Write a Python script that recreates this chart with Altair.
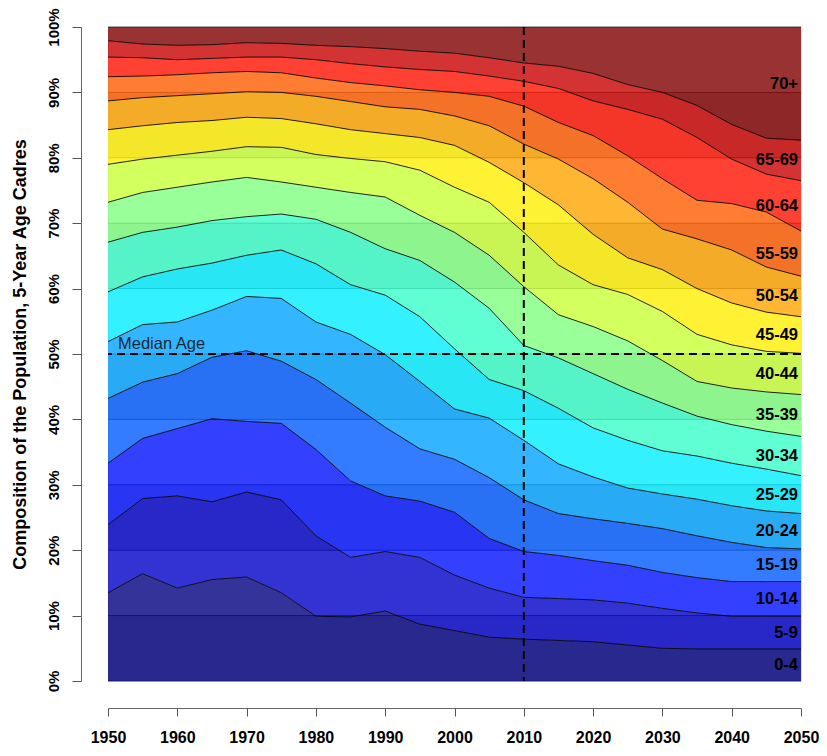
import altair as alt
import pandas as pd

years = list(range(1950, 2051, 5))
groups = ["0-4", "5-9", "10-14", "15-19", "20-24", "25-29", "30-34", "35-39",
          "40-44", "45-49", "50-54", "55-59", "60-64", "65-69", "70+"]

# cumulative share (%) at the top of each age group, 1950..2050 by 5 years
top_0_4 = [13.5, 16.4, 14.2, 15.5, 15.9, 13.5, 9.9, 9.8, 10.7, 8.7, 7.7, 6.7, 6.4, 6.2, 6.0, 5.5, 5.0, 4.9, 4.9, 4.9, 4.9]
top_5_9 = [23.9, 27.9, 28.3, 27.4, 28.9, 27.7, 22.2, 18.9, 19.8, 18.9, 16.2, 14.2, 12.8, 12.6, 12.4, 11.9, 11.1, 10.4, 9.9, 9.9, 9.9]
top_10_14 = [33.3, 37.1, 38.6, 40.1, 39.7, 39.4, 35.4, 30.6, 28.3, 27.5, 25.8, 21.8, 19.8, 19.2, 18.4, 17.7, 16.6, 15.8, 15.2, 15.2, 15.2]
top_15_19 = [43.2, 45.7, 47.0, 49.5, 50.5, 48.9, 46.1, 42.5, 38.8, 35.5, 33.9, 31.1, 27.7, 25.6, 24.8, 24.1, 23.3, 22.2, 21.2, 20.4, 20.2]
top_20_24 = [51.9, 54.5, 54.9, 56.7, 58.8, 58.5, 54.9, 53.0, 49.9, 45.8, 41.6, 40.2, 36.8, 33.2, 31.2, 29.5, 28.6, 27.8, 26.8, 26.0, 25.6]
top_25_29 = [59.5, 61.8, 63.0, 63.9, 65.1, 65.9, 63.8, 60.6, 59.0, 55.7, 50.8, 46.1, 44.4, 41.7, 38.7, 36.8, 35.2, 34.4, 33.3, 32.4, 31.4]
top_30_34 = [67.1, 68.6, 69.4, 70.4, 71.0, 71.4, 70.6, 68.6, 66.1, 64.3, 61.0, 57.0, 51.3, 49.4, 47.0, 44.6, 42.5, 40.5, 39.2, 38.2, 37.4]
top_35_39 = [73.2, 74.7, 75.5, 76.3, 77.0, 76.3, 75.5, 74.7, 74.0, 71.2, 68.6, 65.1, 60.3, 56.0, 54.2, 52.0, 49.0, 45.8, 44.8, 44.2, 43.8]
top_40_44 = [79.0, 79.8, 80.4, 81.0, 81.7, 81.6, 80.5, 79.9, 79.4, 78.1, 75.5, 73.2, 68.6, 63.6, 60.6, 59.1, 56.5, 53.0, 51.4, 50.4, 50.1]
top_45_49 = [84.3, 84.9, 85.4, 85.7, 86.2, 86.0, 85.2, 84.3, 83.7, 83.1, 81.9, 79.3, 76.2, 72.8, 68.3, 64.7, 62.9, 60.0, 57.8, 56.4, 55.7]
top_50_54 = [88.7, 89.2, 89.5, 89.8, 90.1, 90.0, 89.4, 88.6, 87.8, 87.4, 86.4, 84.9, 82.1, 79.8, 76.8, 73.2, 69.1, 67.6, 65.9, 63.3, 61.9]
top_55_59 = [92.4, 92.5, 92.7, 93.0, 93.2, 93.0, 92.2, 91.5, 91.0, 90.4, 90.0, 89.4, 87.9, 85.4, 83.4, 80.3, 76.8, 73.5, 73.0, 71.7, 68.8]
top_60_64 = [95.4, 95.3, 95.0, 95.2, 95.4, 95.4, 95.0, 94.4, 93.9, 93.5, 93.2, 92.5, 91.7, 90.6, 88.7, 87.4, 85.9, 83.1, 79.8, 77.5, 76.5]
top_65_69 = [97.9, 97.4, 97.2, 97.3, 97.6, 97.5, 97.2, 97.0, 96.7, 96.3, 96.0, 95.3, 94.5, 94.0, 92.9, 91.2, 90.0, 88.0, 85.1, 83.0, 82.7]
top_70_plus = [100.0] * len(years)

jet_colors = ["#000080", "#0000C8", "#0012FF", "#005BFF", "#00A4FF", "#00EDFF", "#37FFC8",
              "#80FF80", "#C8FF37", "#FFED00", "#FFA400", "#FF5B00", "#FF1200", "#C80000", "#800000"]

grid_values = [0, 10, 20, 30, 40, 50, 60, 70, 80, 90, 100]
shade_lo = [0, 20, 40, 60, 80]
median_year = 2010
median_pct = 50

tops = [top_0_4, top_5_9, top_10_14, top_15_19, top_20_24, top_25_29, top_30_34, top_35_39,
        top_40_44, top_45_49, top_50_54, top_55_59, top_60_64, top_65_69, top_70_plus]

rows = []
for gi, g in enumerate(groups):
    for yi, yr in enumerate(years):
        lo = tops[gi - 1][yi] if gi > 0 else 0.0
        rows.append({"year": yr, "group": g, "order": gi, "lo": lo, "hi": tops[gi][yi]})
df = pd.DataFrame(rows)

line_df = df[df["group"] != "70+"]

lab_rows = []
for gi, g in enumerate(groups):
    lo = tops[gi - 1][-1] if gi > 0 else 0.0
    lab_rows.append({"group": g, "year": years[-1], "mid": (lo + tops[gi][-1]) / 2})
lab_df = pd.DataFrame(lab_rows)

stripe_df = pd.DataFrame({"lo": shade_lo, "hi": [v + 10 for v in shade_lo]})
grid_df = pd.DataFrame({"v": grid_values})

FONT = "Liberation Sans"

xscale = alt.Scale(domain=[1950, 2050], nice=False, zero=False)
yscale = alt.Scale(domain=[0, 100], nice=False)

xaxis = alt.Axis(values=list(range(1950, 2051, 10)), format="d", title=None, grid=False,
                 offset=27, tickSize=8, labelFontSize=16, labelFontWeight="bold", labelFont=FONT,
                 labelColor="black", labelPadding=13, domainColor="#666", tickColor="#555",
                 labelFlush=False)
yaxis = alt.Axis(values=grid_values, labelExpr="datum.value + '%'", grid=False,
                 title="Composition of the Population, 5-Year Age Cadres",
                 offset=27, tickSize=9, labelFontSize=15, labelFontWeight="bold", labelFont=FONT,
                 labelColor="black", labelAngle=270, labelAlign="center", labelBaseline="bottom",
                 labelPadding=11, domainColor="#666", tickColor="#555",
                 titleFont=FONT, titleFontSize=18, titleFontWeight="bold", titleColor="black",
                 titlePadding=17, labelFlush=False)

stripes = alt.Chart(stripe_df).mark_rect(color="#C8C8C8").encode(
    x=alt.datum(1950, scale=xscale, axis=xaxis),
    x2=alt.datum(2050),
    y=alt.Y("lo:Q", scale=yscale, axis=yaxis),
    y2="hi:Q",
)

grid = alt.Chart(grid_df).mark_rule(color="#555555", strokeWidth=1).encode(
    y=alt.Y("v:Q", scale=yscale)
)

areas = alt.Chart(df).mark_area(fillOpacity=0.8, strokeWidth=0, interpolate="linear").encode(
    x=alt.X("year:Q", scale=xscale),
    y=alt.Y("lo:Q", scale=yscale),
    y2="hi:Q",
    color=alt.Color("group:N", scale=alt.Scale(domain=groups, range=jet_colors), legend=None),
    detail="group:N",
)

lines = alt.Chart(line_df).mark_line(color="black", strokeWidth=1, opacity=0.85).encode(
    x=alt.X("year:Q", scale=xscale),
    y=alt.Y("hi:Q", scale=yscale),
    detail="group:N",
)

vdash = alt.Chart(pd.DataFrame({"x": [median_year]})).mark_rule(
    color="black", strokeWidth=2, strokeDash=[8, 5]).encode(x=alt.X("x:Q", scale=xscale))
hdash = alt.Chart(pd.DataFrame({"y": [median_pct]})).mark_rule(
    color="black", strokeWidth=2, strokeDash=[8, 5]).encode(y=alt.Y("y:Q", scale=yscale))

median_text = alt.Chart(pd.DataFrame({"x": [1950], "y": [median_pct], "t": ["Median Age"]})).mark_text(
    align="left", baseline="bottom", dx=10, dy=-2, fontSize=16.5, font=FONT, color="#1c2838"
).encode(x=alt.X("x:Q", scale=xscale), y=alt.Y("y:Q", scale=yscale), text="t:N")

labels = alt.Chart(lab_df).mark_text(
    align="right", baseline="middle", dx=-3, fontSize=16.5, fontWeight="bold", font=FONT, color="black"
).encode(x=alt.X("year:Q", scale=xscale), y=alt.Y("mid:Q", scale=yscale), text="group:N")

chart = alt.layer(stripes, grid, areas, lines, vdash, hdash, median_text, labels).properties(
    width=693, height=654,
    autosize=alt.AutoSizeParams(type="none"),
    padding={"left": 100, "top": 19, "right": 18, "bottom": 67},
).configure_view(stroke="#333333", strokeWidth=1).configure(background="white")

chart.save("out.html", embed_options={"renderer": "svg", "actions": False})
